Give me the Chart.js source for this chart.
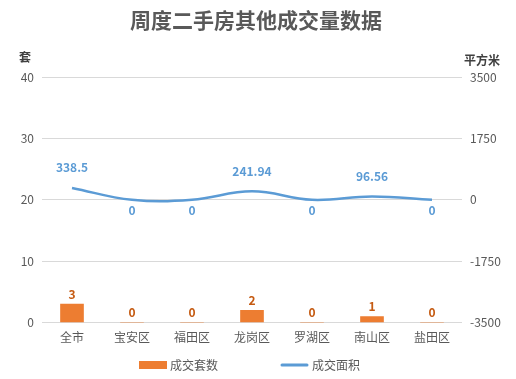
<!DOCTYPE html>
<html><head><meta charset="utf-8">
<script src="https://cdn.jsdelivr.net/npm/chart.js@4/dist/chart.umd.min.js"></script>
<style>html,body{margin:0;padding:0;background:#fff}#w{width:516px;height:379px}</style>
</head><body><div id="w"><canvas id="c"></canvas></div>
<script>
const categories = ['全市','宝安区','福田区','龙岗区','罗湖区','南山区','盐田区'];
const counts = [3,0,0,2,0,1,0];
const areas = [338.5,0,0,241.94,0,96.56,0];
const leftTicks = [0,10,20,30,40];
const rightTicks = [-3500,-1750,0,1750,3500];
const seriesNames = ['成交套数','成交面积'];
const FONT = "'Noto Sans CJK SC','Noto Sans',sans-serif";

const labelsPlugin = {
  id:'labels',
  afterDatasetsDraw(chart){
    const ctx = chart.ctx;
    ctx.save();
    ctx.textAlign='center'; ctx.textBaseline='middle';
    ctx.font = "bold 12px " + FONT;
    const m0 = chart.getDatasetMeta(0);
    m0.data.forEach((el,i)=>{
      ctx.fillStyle = '#C55A11';
      ctx.fillText(String(counts[i]), el.x, el.y - 10);
    });
    const m1 = chart.getDatasetMeta(1);
    m1.data.forEach((el,i)=>{
      ctx.fillStyle = '#5B9BD5';
      const dy = areas[i] > 0 ? -20 : 11;
      ctx.fillText(String(areas[i]), el.x, el.y + dy);
    });
    // axis titles
    ctx.fillStyle = '#404040';
    ctx.font = "bold 12px " + FONT;
    const ca = chart.chartArea;
    ctx.textAlign='left';
    ctx.fillText('套', 19, ca.top - 20);
    ctx.textAlign='right';
    ctx.fillText('平方米', 500, ca.top - 17);
    // title
    ctx.textAlign='center';
    ctx.fillStyle = '#595959';
    ctx.font = "bold 21px " + FONT;
    ctx.fillText('周度二手房其他成交量数据', 256, 20);
    // legend
    const ly = 365;
    ctx.font = "12px " + FONT;
    ctx.textAlign='left';
    ctx.fillStyle = '#ED7D31';
    ctx.fillRect(139, ly-4, 28, 8);
    ctx.fillStyle = '#595959';
    ctx.fillText(seriesNames[0], 170, ly);
    ctx.strokeStyle = '#5B9BD5'; ctx.lineWidth = 3; ctx.lineCap='round';
    ctx.beginPath(); ctx.moveTo(282, ly); ctx.lineTo(307, ly); ctx.stroke();
    ctx.fillStyle = '#595959';
    ctx.fillText(seriesNames[1], 312, ly);
    ctx.restore();
  }
};

new Chart(document.getElementById('c'), {
  data:{
    labels: categories,
    datasets:[
      {type:'bar', label:seriesNames[0], data:counts, backgroundColor:'#ED7D31', yAxisID:'y', barThickness:23, order:2},
      {type:'line', label:seriesNames[1], data:areas, borderColor:'#5B9BD5', backgroundColor:'#5B9BD5', borderWidth:2.5, tension:0.4, pointRadius:0, yAxisID:'y1', order:1}
    ]
  },
  options:{
    responsive:true, maintainAspectRatio:false, animation:false,
    layout:{padding:{top:77,left:0,right:0,bottom:26}},
    plugins:{
      title:{display:false},
      tooltip:{enabled:false},
      legend:{display:false}
    },
    scales:{
      x:{
        grid:{display:false, drawTicks:false}, border:{display:false},
        ticks:{color:'#595959', font:{family:FONT,size:12}, padding:8}
      },
      y:{
        position:'left', min:0, max:40,
        afterBuildTicks(s){ s.ticks = leftTicks.map(v=>({value:v})); },
        afterFit(s){ s.width = 42; },
        grid:{color:'#D9D9D9', drawTicks:false}, border:{display:false},
        ticks:{color:'#595959', font:{family:FONT,size:12}, padding:8}
      },
      y1:{
        position:'right', min:-3500, max:3500,
        afterBuildTicks(s){ s.ticks = rightTicks.map(v=>({value:v})); },
        afterFit(s){ s.width = 54; },
        grid:{display:false, drawTicks:false}, border:{display:false},
        ticks:{color:'#595959', font:{family:FONT,size:12}, padding:8, callback:(v)=>String(v)}
      }
    }
  },
  plugins:[labelsPlugin]
});
</script></body></html>
